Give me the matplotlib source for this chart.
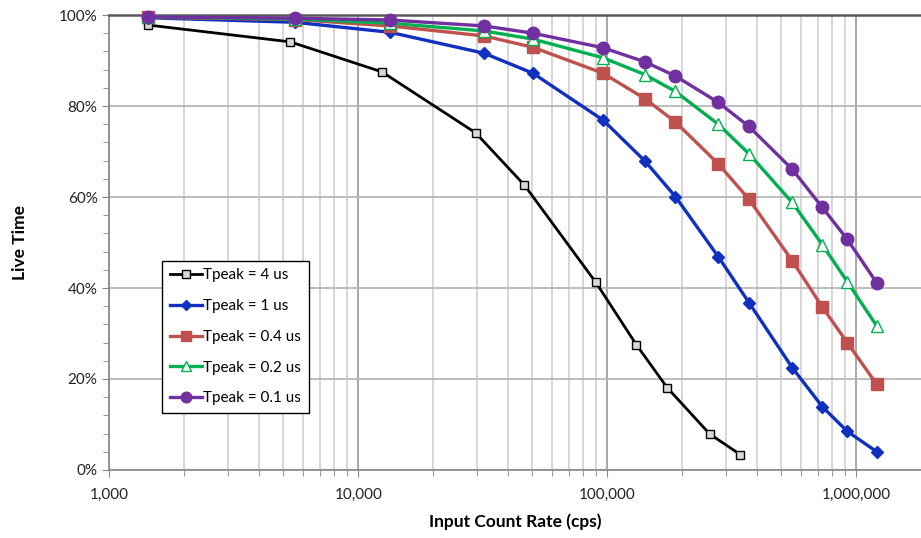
import matplotlib
matplotlib.use("Agg")
import matplotlib.pyplot as plt
from matplotlib.ticker import FuncFormatter, LogLocator, MultipleLocator, NullFormatter

plt.rcParams['font.family'] = ['Lato', 'DejaVu Sans']

# tasas de entrada (cps) y tiempo vivo (%) por serie
icr_4us = [1430, 5330, 12450, 29600, 46500, 89800, 131000, 174000, 258000, 342000]
lt_4us = [97.8, 94.1, 87.5, 74.1, 62.6, 41.3, 27.5, 18.1, 7.9, 3.4]

icr = [1430, 5570, 13400, 32000, 50300, 96200, 141700, 187700, 279000,
       370700, 553000, 731000, 920000, 1210000]
lt_1us = [99.4, 98.4, 96.2, 91.6, 87.2, 76.9, 67.9, 60.1, 46.9, 36.8, 22.5, 13.9, 8.5, 4.0]
lt_04us = [99.5, 99.0, 97.6, 95.4, 92.9, 87.2, 81.6, 76.5, 67.3, 59.5, 46.0, 35.8, 28.0, 18.8]
lt_02us = [99.6, 99.1, 98.2, 96.5, 94.7, 90.6, 86.9, 83.2, 76.0, 69.5, 58.8, 49.5, 41.4, 31.6]
lt_01us = [99.6, 99.3, 98.9, 97.6, 96.0, 92.8, 89.7, 86.6, 80.8, 75.5, 66.1, 57.7, 50.7, 41.1]

fig = plt.figure(figsize=(9.21, 5.38), dpi=100)
ax = fig.add_axes([0.1187, 0.1264, 0.8813, 0.8457])

# rejilla
ax.set_xscale('log')
ax.set_xlim(1000, 1.82e6)
ax.set_ylim(0, 100)
ax.xaxis.set_major_locator(LogLocator(base=10))
ax.xaxis.set_minor_locator(LogLocator(base=10, subs=range(2, 10)))
ax.xaxis.set_minor_formatter(NullFormatter())
ax.xaxis.set_major_formatter(FuncFormatter(lambda v, p: f"{int(round(v)):,}"))
ax.yaxis.set_major_locator(MultipleLocator(20))
ax.yaxis.set_minor_locator(MultipleLocator(4))
ax.yaxis.set_major_formatter(FuncFormatter(lambda v, p: f"{int(v)}%"))

ax.grid(True, which='major', axis='y', color='#b3b3b3', linewidth=1.2)
ax.grid(True, which='major', axis='x', color='#999999', linewidth=1.2)
ax.grid(True, which='minor', axis='x', color='#d0d0d0', linewidth=1.2)
ax.set_axisbelow(True)

ax.spines['right'].set_visible(False)
ax.spines['top'].set_color('#595959')
ax.spines['top'].set_linewidth(1.8)
for s in ('left', 'bottom'):
    ax.spines[s].set_color('#868686')
    ax.spines[s].set_linewidth(1.2)

ax.tick_params(which='both', direction='out', color='#868686', labelsize=11,
               labelcolor='#222222')
ax.tick_params(which='major', length=5)
ax.tick_params(which='minor', length=4)
ax.tick_params(axis='x', pad=8)

# series
ax.plot(icr_4us, lt_4us, color='black', lw=2.0, marker='s', ms=6,
        mfc='#d9d9d9', mec='black', mew=1.0, label='Tpeak = 4 us', clip_on=False, zorder=3)
ax.plot(icr, lt_1us, color='#1030c0', lw=2.4, marker='D', ms=6,
        mfc='#1030c0', mec='#1030c0', label='Tpeak = 1 us', clip_on=False, zorder=4)
ax.plot(icr, lt_04us, color='#c0504d', lw=2.4, marker='s', ms=8.5,
        mfc='#c0504d', mec='#c0504d', label='Tpeak = 0.4 us', clip_on=False, zorder=5)
ax.plot(icr, lt_02us, color='#00b050', lw=2.4, marker='^', ms=8,
        mfc='white', mec='#00b050', mew=1.0, label='Tpeak = 0.2 us', clip_on=False, zorder=6)
ax.plot(icr, lt_01us, color='#7030a0', lw=2.4, marker='o', ms=9,
        mfc='#7030a0', mec='#7030a0', label='Tpeak = 0.1 us', clip_on=False, zorder=7)

leg = ax.legend(loc='lower left', bbox_to_anchor=(0.065, 0.125), fontsize=11,
                frameon=True, fancybox=False, edgecolor='black', framealpha=1,
                handlelength=2.1, handletextpad=0.1, labelspacing=1.1,
                borderpad=0.5, borderaxespad=0, markerscale=0.85)
leg.get_frame().set_linewidth(1.0)

ax.set_xlabel('Input Count Rate (cps)', fontsize=12.5, fontweight='bold', labelpad=8)
ax.set_ylabel('Live Time', fontsize=12.5, fontweight='bold', labelpad=22)

fig.savefig('out.png', dpi=100)
